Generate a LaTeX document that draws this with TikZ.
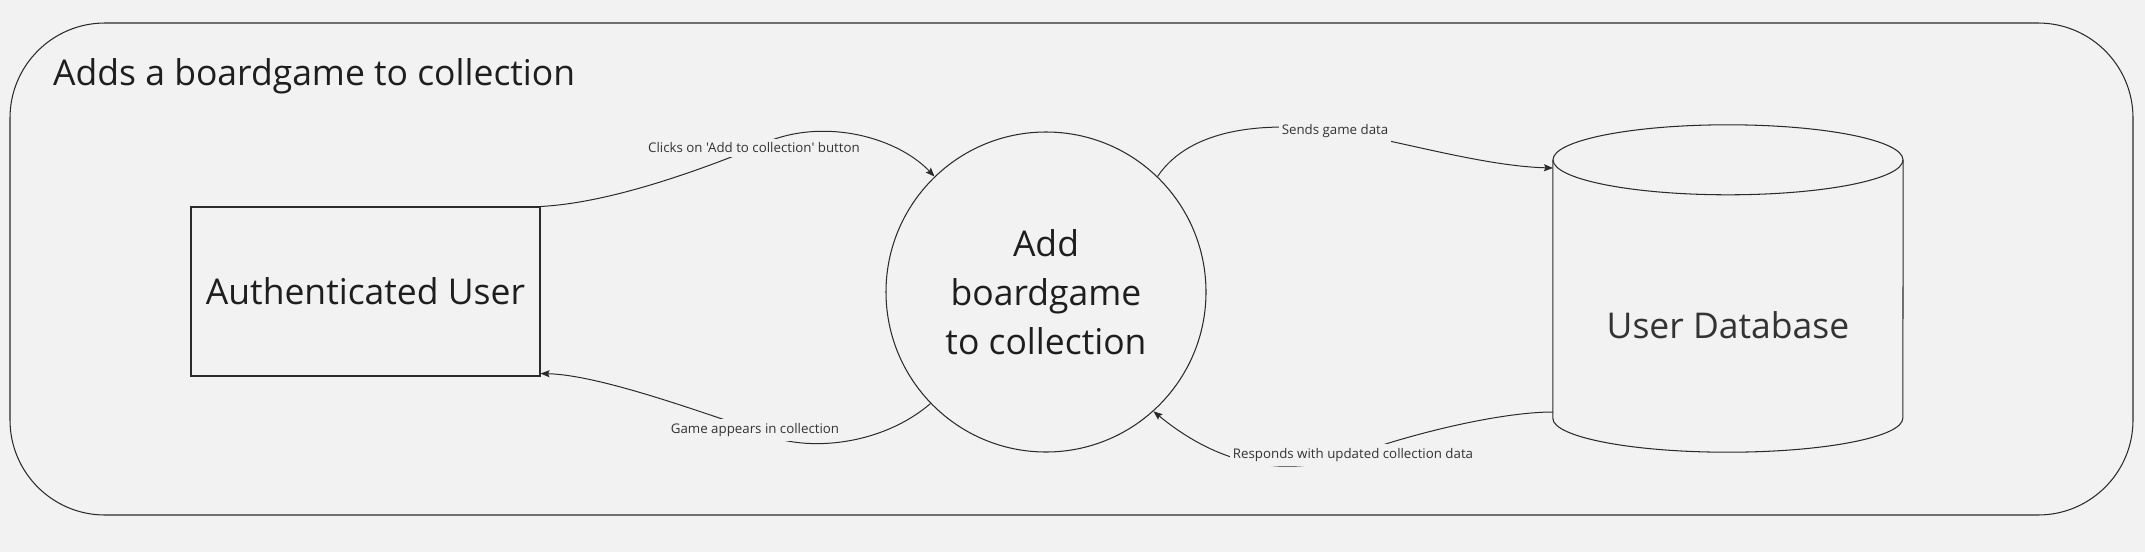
\documentclass[tikz,border=0pt]{standalone}
\usepackage{fontspec}
\setmainfont{Open Sans}[Ligatures=TeXOff]
\usetikzlibrary{arrows.meta}
\definecolor{bg}{HTML}{F2F2F2}
\definecolor{ink}{HTML}{1E1E1E}
\definecolor{lineink}{HTML}{2B2B2B}
\definecolor{soft}{HTML}{333333}
\begin{document}
\begin{tikzpicture}[x=1pt,y=-1pt,
  outline/.style={draw=lineink, line width=1.05pt},
  bigtext/.style={font=\fontsize{35.5}{49}\selectfont, text=ink},
  flow/.style={draw=lineink, line width=1pt, -{Stealth[length=9pt,width=7pt,inset=1.5pt]}},
  lbl/.style={font=\fontsize{13.3}{15}\selectfont, text=soft, fill=bg, inner xsep=3pt, inner ysep=4pt}]
\fill[bg] (0,0) rectangle (2145,552);
\useasboundingbox (0,0) rectangle (2145,552);
\draw[outline, rounded corners=95pt] (10,23) rectangle (2133,515);
\node[anchor=base west, bigtext, inner sep=0pt] (title) at (53,85) {Adds a boardgame to collection};
\node[outline, bigtext, minimum width=349pt, minimum height=169pt, inner sep=0pt] (user) at (365.5,291.5) {Authenticated User};
\node[outline, circle, minimum size=320pt, inner sep=0pt, bigtext, align=center] (proc) at (1046,292) {Add\\boardgame\\to collection};
\node[minimum width=350pt, minimum height=258pt, inner sep=0pt] (db) at (1728,289) {};
\draw[outline] (db.north west) -- (db.south west) arc[start angle=180,end angle=360,x radius=175pt,y radius=34pt] -- (db.north east);
\draw[outline] (db.north) ellipse[x radius=175pt, y radius=35pt];
\node[bigtext, text=soft] (dbtext) at (1728,325) {User Database};
\coordinate (m1) at (754,148);
\coordinate (m2) at (1335,131);
\coordinate (m3) at (755,430);
\coordinate (m4) at (1353,455);
\coordinate (dbin) at (1553,168);
\coordinate (dbout) at (1553,412);
\draw[flow] (user.north east) .. controls (610,203) and (700,170) .. (m1) node[lbl]{Clicks on 'Add to collection' button} .. controls (815,115) and (895,135) .. (proc.134);
\draw[flow] (proc.46) .. controls (1190,128) and (1265,121) .. (m2) node[lbl]{Sends game data} .. controls (1390,138) and (1480,166) .. (dbin);
\draw[flow] (proc.224) .. controls (880,447) and (800,454) .. (m3) node[lbl]{Game appears in collection} .. controls (700,412) and (600,375) .. ([yshift=3pt]user.south east);
\draw[flow] (dbout) .. controls (1500,412) and (1410,434) .. (m4) node[lbl]{Responds with updated collection data} .. controls (1290,476) and (1225,470) .. (proc.312);
\end{tikzpicture}
\end{document}
